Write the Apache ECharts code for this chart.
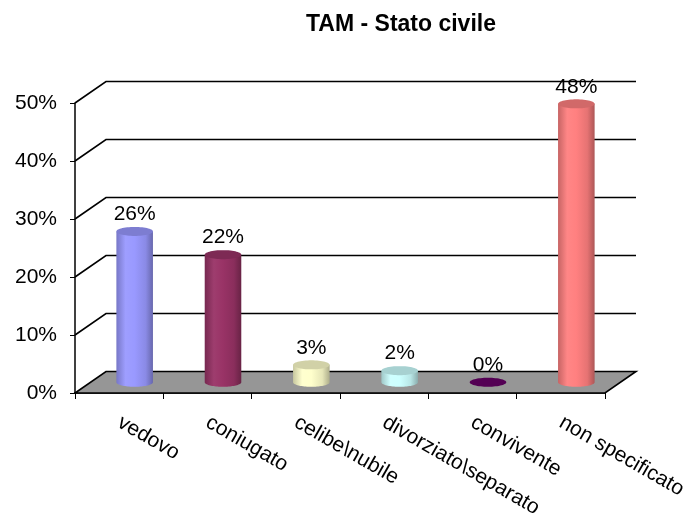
<!DOCTYPE html>
<html>
<head>
<meta charset="utf-8">
<script src="https://cdn.jsdelivr.net/npm/echarts@6/dist/echarts.min.js"></script>
<style>
  html, body { margin: 0; padding: 0; background: #fff; }
  #chart { width: 688px; height: 513px; }
</style>
</head>
<body>
<div id="chart"></div>
<script>
// Marital status distribution (share of respondents)
const categories = ['vedovo', 'coniugato', 'celibe\\nubile', 'divorziato\\separato', 'convivente', 'non specificato'];
const values = [0.26, 0.22, 0.03, 0.02, 0.00, 0.48];
const barColors = ['#9999FF', '#993366', '#FFFFCC', '#CCFFFF', '#660066', '#FF8080'];
const gridTicks = [0.1, 0.2, 0.3, 0.4, 0.5];

// Depth of the pseudo-3D box (back wall offset)
const DX = 31, DY = -21.5;
const FONT = 'Liberation Sans, Arial, sans-serif';

function shade(hex, f) {
  const n = parseInt(hex.slice(1), 16);
  let r = (n >> 16) & 255, g = (n >> 8) & 255, b = n & 255;
  const adj = c => f < 1 ? Math.round(c * f) : Math.round(c + (255 - c) * (f - 1));
  return 'rgb(' + adj(r) + ',' + adj(g) + ',' + adj(b) + ')';
}

function ellipsePts(cx, cy, rx, ry, a0, a1, n) {
  const pts = [];
  for (let i = 0; i <= n; i++) {
    const a = a0 + (a1 - a0) * i / n;
    pts.push([cx + rx * Math.cos(a), cy + ry * Math.sin(a)]);
  }
  return pts;
}

const chart = echarts.init(document.getElementById('chart'), null, { renderer: 'canvas' });

const option = {
  animation: false,
  backgroundColor: '#fff',
  title: {
    text: 'TAM - Stato civile',
    left: 301,
    top: 8,
    textStyle: { fontFamily: FONT, fontSize: 23, fontWeight: 'bold', color: '#000' }
  },
  grid: { left: 75, right: 83, top: 103, bottom: 120, containLabel: false, outerBoundsMode: 'none' },
  xAxis: {
    type: 'category',
    data: categories,
    axisLine: { lineStyle: { color: '#000', width: 1.5 } },
    axisTick: { show: true, length: 6, lineStyle: { color: '#000', width: 1 } },
    axisLabel: {
      interval: 0, rotate: -30, margin: 28,
      fontFamily: FONT, fontSize: 21, color: '#000'
    },
    splitLine: { show: false }
  },
  yAxis: {
    type: 'value',
    min: 0, max: 0.5, interval: 0.1,
    axisLine: { show: true, lineStyle: { color: '#000', width: 1.5 } },
    axisTick: { show: true, length: 5, lineStyle: { color: '#000', width: 1 } },
    axisLabel: {
      margin: 18, fontFamily: FONT, fontSize: 21, color: '#000',
      padding: [5, 0, 0, 0],
      formatter: v => Math.round(v * 100) + '%'
    },
    splitLine: { show: false }
  },
  series: [
    {
      // gridlines: diagonal on the side wall, horizontal on the back wall
      type: 'custom',
      z: 1,
      silent: true,
      data: gridTicks.map(v => [0, v]),
      renderItem: (params, api) => {
        const cs = params.coordSys;
        const y = api.coord([0, api.value(1)])[1];
        return {
          type: 'polyline',
          shape: { points: [[cs.x, y], [cs.x + DX, y + DY], [cs.x + cs.width + DX, y + DY]] },
          style: { stroke: '#000', lineWidth: 1.6, fill: null }
        };
      }
    },
    {
      // floor
      type: 'custom',
      z: 2,
      silent: true,
      data: [[0, 0]],
      renderItem: (params, api) => {
        const cs = params.coordSys;
        const y = api.coord([0, 0])[1];
        return {
          type: 'polygon',
          shape: { points: [[cs.x, y], [cs.x + cs.width, y], [cs.x + cs.width + DX, y + DY], [cs.x + DX, y + DY]] },
          style: { fill: '#969696', stroke: '#000', lineWidth: 1.6 }
        };
      }
    },
    {
      // cylinders
      type: 'custom',
      z: 3,
      data: values.map((v, i) => [i, v]),
      encode: { x: 0, y: 1 },
      renderItem: (params, api) => {
        const i = api.value(0), v = api.value(1);
        const base = api.coord([i, 0]);
        const top = api.coord([i, v]);
        const band = api.size([1, 0])[0];
        const cx = base[0] + DX / 2;
        const by = base[1] + DY / 2;
        const ty = top[1] + DY / 2;
        const rx = band * 0.207, ry = 4.5;
        const col = barColors[i];
        const bodyGrad = new echarts.graphic.LinearGradient(0, 0, 1, 0, [
          { offset: 0, color: shade(col, 0.78) },
          { offset: 0.25, color: shade(col, 1.05) },
          { offset: 0.5, color: shade(col, 1.0) },
          { offset: 0.8, color: shade(col, 0.9) },
          { offset: 1, color: shade(col, 0.68) }
        ]);
        const children = [];
        if (by - ty > 0.5) {
          const pts = [[cx - rx, ty]].concat(ellipsePts(cx, by, rx, ry, Math.PI, 0, 40)).concat([[cx + rx, ty]]);
          pts.splice(1, 0, [cx - rx, by]);
          children.push({ type: 'polygon', shape: { points: pts }, style: { fill: bodyGrad } });
        }
        children.push({
          type: 'polygon',
          shape: { points: ellipsePts(cx, ty, rx, ry, 0, Math.PI * 2, 60) },
          style: { fill: shade(col, 0.82) }
        });
        children.push({
          type: 'text',
          style: {
            text: Math.round(v * 100) + '%',
            x: cx, y: ty - ry - 2,
            align: 'center', verticalAlign: 'bottom',
            font: '21px ' + FONT, fill: '#000'
          }
        });
        return { type: 'group', children };
      }
    }
  ]
};

chart.setOption(option);
</script>
</body>
</html>
